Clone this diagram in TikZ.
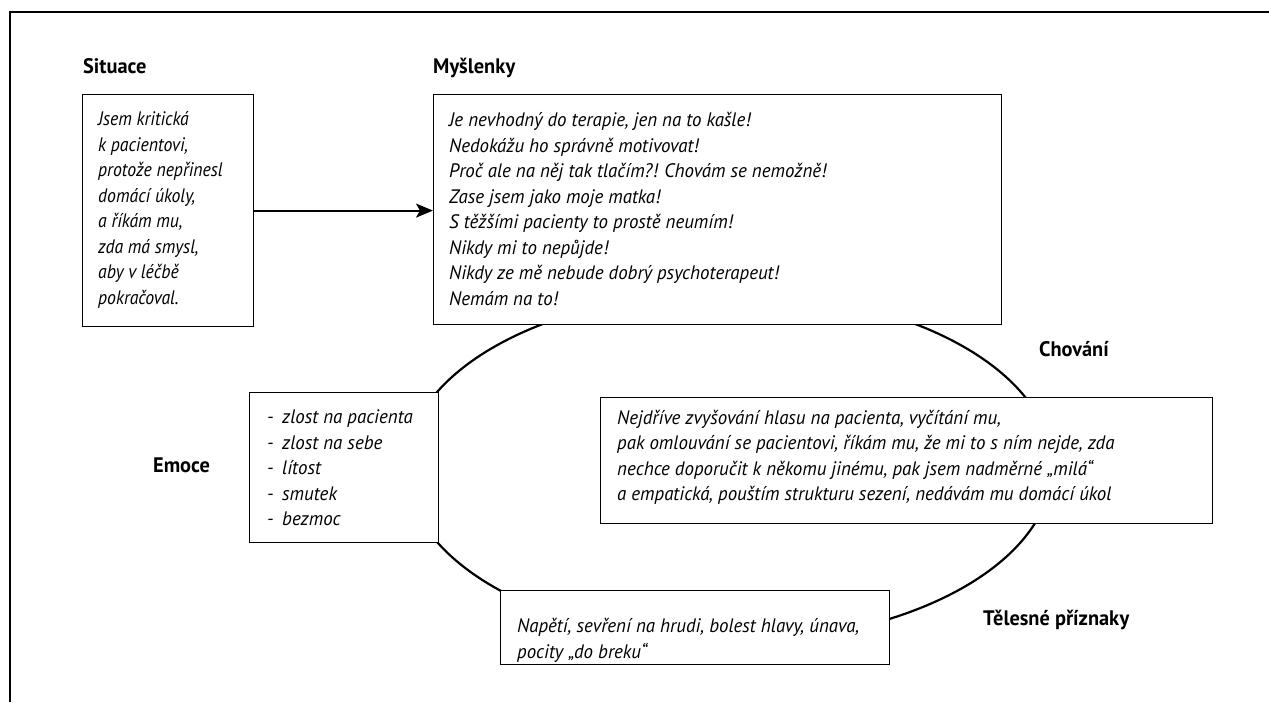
\documentclass[tikz,border=0pt]{standalone}
\usepackage{fontspec}
\setmainfont{PT Sans}[FakeStretch=0.97]
\newfontfamily\sitfont{PT Sans}[FakeStretch=0.91]
\usetikzlibrary{arrows.meta,calc}
\begin{document}
\begin{tikzpicture}[x=1pt,y=-1pt,
  box/.style={draw, line width=1.2pt, fill=white, inner sep=0pt, anchor=north west},
  body/.style={font=\fontsize{19.5}{25.5}\selectfont\itshape, align=left, inner sep=0pt, anchor=west},
  head/.style={font=\fontsize{21}{25}\selectfont\bfseries, inner sep=0pt, anchor=base west},
  cyc/.style={line width=2.2pt},
  frame/.style={line width=1.8pt}]
\useasboundingbox (0,0) rectangle (1269,702);
% frame
\coordinate (ftr) at (1269,12);
\coordinate (ftl) at (10,12);
\coordinate (fbl) at (10,702);
\draw[frame] (ftr) -- (ftl) -- (fbl);
% cycle
\draw[cyc] (729,467) ellipse [x radius=323, y radius=175];
% boxes
\node[box, minimum width=171pt, minimum height=232pt] (sit) at (82,94) {};
\node[box, minimum width=568pt, minimum height=230pt] (mys) at (433,94) {};
\node[box, minimum width=189pt, minimum height=150pt] (emo) at (249,392) {};
\node[box, minimum width=612pt, minimum height=126pt] (cho) at (600,397) {};
\node[box, minimum width=389pt, minimum height=74pt] (tel) at (500,590) {};
% texts
\node[body, font=\fontsize{19.5}{25.5}\selectfont\sitfont\itshape] (sitT) at (98,210) {Jsem kritická\\k pacientovi,\\protože nepřinesl\\domácí úkoly,\\a říkám mu,\\zda má smysl,\\aby v léčbě\\pokračoval.};
\node[body] (mysT) at (449,209) {Je nevhodný do terapie, jen na to kašle!\\Nedokážu ho správně motivovat!\\Proč ale na něj tak tlačím?! Chovám se nemožně!\\Zase jsem jako moje matka!\\S těžšími pacienty to prostě neumím!\\Nikdy mi to nepůjde!\\Nikdy ze mě nebude dobrý psychoterapeut!\\Nemám na to!};
\node[body] (emoT) at (267,468) {\makebox[15pt][l]{-}zlost na pacienta\\\makebox[15pt][l]{-}zlost na sebe\\\makebox[15pt][l]{-}lítost\\\makebox[15pt][l]{-}smutek\\\makebox[15pt][l]{-}bezmoc};
\node[body] (choT) at (617,457.5) {Nejdříve zvyšování hlasu na pacienta, vyčítání mu,\\pak omlouvání se pacientovi, říkám mu, že mi to s ním nejde, zda\\nechce doporučit k někomu jinému, pak jsem nadměrné „milá“\\a empatická, pouštím strukturu sezení, nedávám mu domácí úkol};
\node[body] (telT) at (517,640.5) {Napětí, sevření na hrudi, bolest hlavy, únava,\\pocity „do breku“};
% labels
\node[head] (sitL) at (83,73) {Situace};
\node[head] (mysL) at (433,73) {Myšlenky};
\node[head] (emoL) at (153,472) {Emoce};
\node[head] (choL) at (1039,356) {Chování};
\node[head] (telL) at (983,625) {Tělesné příznaky};
% arrow
\draw[line width=1.8pt, -{Stealth[length=17pt,width=14pt,inset=4pt]}] (sit.east) -- (sit.east -| mys.west);
\end{tikzpicture}
\end{document}
